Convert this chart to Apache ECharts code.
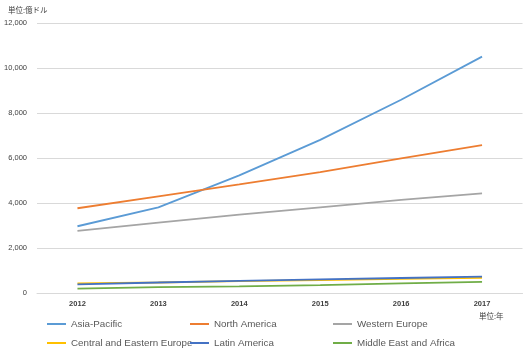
<!DOCTYPE html>
<html><head><meta charset="utf-8">
<script src="https://cdn.jsdelivr.net/npm/echarts@6/dist/echarts.min.js"></script>
<style>html,body{margin:0;padding:0;background:#fff}#c{width:529px;height:356px}</style>
</head><body><div id="c"></div>
<script>
const years = ['2012','2013','2014','2015','2016','2017'];
const asiaPacific = [2980, 3820, 5240, 6820, 8600, 10520];
const northAmerica = [3780, 4310, 4840, 5390, 6000, 6590];
const westernEurope = [2770, 3140, 3500, 3820, 4150, 4440];
const centralEasternEurope = [440, 480, 540, 590, 640, 690];
const latinAmerica = [400, 480, 550, 620, 680, 740];
const middleEastAfrica = [210, 270, 310, 360, 440, 510];
const yTicks = [0, 2000, 4000, 6000, 8000, 10000, 12000];

const names = ['Asia-Pacific','North America','Western Europe','Central and Eastern Europe','Latin America','Middle East and Africa'];
const colors = ['#5B9BD5','#ED7D31','#A5A5A5','#FFC000','#4472C4','#70AD47'];
const dataSets = [asiaPacific, northAmerica, westernEurope, centralEasternEurope, latinAmerica, middleEastAfrica];
const legendPos = [[47,319],[190,319],[333,319],[47,338],[190,338],[333,338]];
const font = '"Liberation Sans", Arial, sans-serif';

const chart = echarts.init(document.getElementById('c'));
chart.setOption({
  animation:false,
  backgroundColor:'#fff',
  color: colors,
  grid:{left:37, right:6.5, top:23.3, bottom:62.7},
  legend: names.map((n,i)=>({
    data:[n], left:legendPos[i][0], top:legendPos[i][1],
    icon:'rect', itemWidth:19, itemHeight:2, padding:0,
    textStyle:{fontSize:9.8, color:'#595959', fontFamily:font}
  })),
  xAxis:{type:'category', data:years, boundaryGap:true,
    axisLine:{lineStyle:{color:'#d9d9d9'}}, axisTick:{show:false},
    axisLabel:{fontSize:7.5, color:'#404040', margin:7, fontFamily:font, fontWeight:'bold'}},
  yAxis:{type:'value', min:yTicks[0], max:yTicks[yTicks.length-1], interval:2000,
    axisLine:{show:false}, axisTick:{show:false},
    splitLine:{lineStyle:{color:'#d9d9d9'}},
    axisLabel:{fontSize:7.5, color:'#404040', margin:10, fontFamily:font,
      formatter:v=>v.toLocaleString('en-US')}},
  graphic:[
    {type:'text', left:8, top:6, style:{text:'単位:億ドル', font:'7.5px "Noto Sans CJK JP"', fill:'#404040'}},
    {type:'text', left:479, top:312, style:{text:'単位:年', font:'7.5px "Noto Sans CJK JP"', fill:'#404040'}}
  ],
  series: names.map((n,i)=>({
    name:n, type:'line', data:dataSets[i], symbol:'none',
    lineStyle:{width:1.8, color:colors[i]}, itemStyle:{color:colors[i]}
  }))
});
</script></body></html>
